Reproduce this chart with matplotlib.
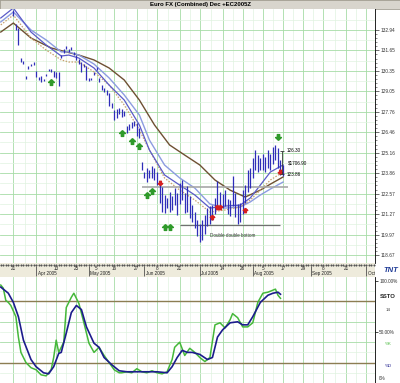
import matplotlib
matplotlib.use("Agg")
import matplotlib.pyplot as plt
from matplotlib.path import Path
import numpy as np
import pandas as pd

plt.rcParams['font.family'] = ['Liberation Sans', 'DejaVu Sans']

W, H = 400, 383

# trading days shown on the chart
dates = pd.bdate_range("2005-03-14", "2005-10-07")

# ---- daily bars (high / low), first bar on 2005-03-21
bar_start = "2005-03-21"
highs = [134.21, 133.32, 133.07, 131.16, 130.97, 130.02, 130.66, 130.78, 130.91, 130.34,
         129.96, 130.02, 129.83, 130.15, 130.47, 130.47, 130.34, 130.28, 130.28, 131.36,
         131.74, 131.93, 131.74, 131.86, 131.55, 131.36, 131.10, 130.91, 130.78, 130.66,
         129.90, 129.90, 130.28, 130.59, 129.90, 129.45, 129.26, 129.14, 128.95, 128.31,
         127.87, 127.93, 127.99, 127.93, 127.80, 126.85, 126.98, 127.11, 127.17, 127.04,
         126.73, 124.57, 123.93, 124.19, 124.06, 124.32, 124.19, 123.93, 123.24, 122.99,
         122.48, 122.29, 122.67, 122.42, 122.92, 122.61, 123.24, 123.43, 122.61, 123.05,
         122.42, 121.85, 121.40, 120.89, 120.64, 120.89, 121.21, 121.65, 121.78, 121.85,
         122.29, 123.37, 122.67, 122.54, 122.80, 122.23, 122.16, 123.68, 122.61, 121.91,
         121.97, 122.80, 123.11, 124.06, 124.19, 124.83, 125.33, 125.02, 124.83, 125.08,
         124.89, 125.33, 125.08, 125.52, 125.65, 125.46, 124.70, 124.38]
lows = [133.83, 132.94, 131.99, 130.91, 130.78, 129.83, 130.47, 130.66, 130.72, 129.96,
        129.77, 129.64, 129.71, 130.02, 130.34, 130.28, 129.96, 129.90, 129.39, 131.16,
        131.48, 131.74, 131.55, 131.67, 131.36, 131.04, 130.78, 130.28, 130.59, 129.77,
        129.71, 129.77, 130.09, 130.40, 129.64, 129.14, 129.01, 128.82, 128.12, 127.99,
        127.23, 127.36, 127.61, 127.42, 127.49, 126.41, 126.60, 126.73, 126.85, 126.22,
        126.09, 124.06, 123.55, 123.30, 123.55, 123.55, 123.43, 123.11, 121.97, 121.40,
        121.34, 121.66, 121.40, 121.53, 121.85, 121.21, 121.91, 122.16, 121.34, 121.40,
        121.02, 120.77, 120.39, 119.88, 119.50, 119.62, 120.00, 120.51, 120.64, 120.89,
        121.27, 121.66, 121.72, 121.66, 121.78, 121.27, 121.15, 121.78, 121.08, 120.64,
        120.77, 121.27, 121.97, 122.67, 122.92, 123.55, 124.06, 123.93, 124.06, 124.06,
        123.93, 124.19, 124.06, 124.45, 124.70, 124.19, 123.74, 123.68]

# ---- moving averages (day index, value)
ma_slow_idx = [0, 5, 12, 20, 26, 31, 37, 43, 49, 55, 61, 67, 73, 79, 85, 91, 97, 103, 107, 112]
ma_slow = [132.81, 133.38, 132.43, 131.80, 131.55, 131.35, 131.04, 130.53, 129.77, 128.50,
           126.92, 125.65, 125.01, 124.38, 123.43, 122.79, 122.35, 122.79, 123.17, 123.62]
ma_idx = [0, 5, 12, 18, 24, 27, 31, 37, 43, 49, 55, 59, 65, 71, 77, 83, 89, 95, 99, 103, 107, 112]
ma_mid = [133.45, 134.08, 132.94, 132.31, 131.55, 131.55, 131.35, 130.78, 129.90, 128.82, 127.55,
          125.96, 124.38, 123.56, 122.92, 121.91, 121.65, 121.72, 122.04, 122.48, 122.86, 123.30]
ma_fast = [133.70, 134.33, 132.81, 131.99, 131.29, 131.35, 131.16, 130.53, 129.45, 128.50, 126.92,
           125.33, 123.75, 123.11, 122.48, 121.65, 121.78, 121.84, 122.29, 123.11, 123.94, 124.38]
ma_wtd = [133.26, 133.89, 132.43, 131.67, 131.04, 130.91, 130.91, 130.28, 129.45, 128.18, 126.60,
          125.33, 123.56, 122.79, 122.16, 121.40, 121.53, 121.72, 122.16, 122.79, 123.43, 123.94]

# ---- signals
buy_idx = [20, 48, 52, 55, 58, 60, 65, 67]
buy_px = [129.64, 126.41, 125.90, 125.58, 122.48, 122.73, 120.45, 120.45]
sell_idx = [110]
sell_px = [126.16]
red_dn_idx = [63, 111]
red_dn_px = [123.24, 123.94]
red_up_idx = [84, 86, 87, 97]
red_up_px = [121.08, 121.72, 121.72, 121.53]

support_line = (56, 114, 122.98)
bottom_line = (71, 111, 120.58)

price_ticks = [132.94, 131.65, 130.35, 129.05, 127.76, 126.46, 125.16,
               123.86, 122.57, 121.27, 119.97, 118.67]

# ---- slow stochastics
k_idx = [0, 1, 2, 3, 4, 6, 7, 8, 10, 12, 14, 16, 18, 20, 21, 22, 23, 25, 26, 28, 29, 31, 33,
         35, 37, 39, 41, 43, 45, 47, 48, 50, 52, 54, 56, 58, 60, 62, 64, 66, 68, 69, 71, 73,
         75, 77, 79, 81, 83, 85, 87, 89, 91, 92, 94, 96, 98, 100, 102, 104, 106, 108, 109,
         110, 111]
k_val = [96, 93, 81, 79, 76, 65, 45, 30, 20, 15, 13, 8, 7, 13, 25, 42, 30, 40, 74, 84, 88, 78,
         59, 39, 30, 35, 27, 20, 13, 10, 10, 11, 10, 14, 11, 10, 12, 10, 9, 11, 23, 35, 40, 27,
         34, 30, 25, 21, 25, 57, 59, 54, 62, 68, 64, 55, 55, 59, 79, 88, 89, 91, 92, 86, 83]
d_idx = [0, 3, 5, 7, 9, 12, 14, 17, 19, 21, 23, 24, 26, 28, 30, 32, 34, 37, 39, 41, 44, 47,
         50, 54, 58, 62, 66, 68, 70, 72, 74, 76, 79, 82, 84, 86, 88, 91, 94, 96, 98, 100,
         103, 106, 108, 110, 111]
d_val = [94, 88, 79, 65, 42, 23, 16, 10, 9, 16, 29, 30, 49, 69, 76, 72, 55, 39, 35, 25, 18,
         12, 11, 11, 11, 11, 10, 16, 25, 32, 30, 30, 28, 23, 25, 45, 52, 59, 60, 57, 57, 65,
         79, 86, 88, 89, 87]

day_ticks = ["2005-03-21", "2005-04-13", "2005-04-25", "2005-05-05", "2005-05-16",
             "2005-05-27", "2005-06-08", "2005-06-21", "2005-07-14", "2005-07-26",
             "2005-08-05", "2005-08-17", "2005-08-29", "2005-09-08", "2005-09-21"]
month_ticks = ["2005-04-01", "2005-05-02", "2005-06-01", "2005-07-01",
               "2005-08-01", "2005-09-01", "2005-10-03"]
month_labels = ["Apr 2005", "May 2005", "Jun 2005", "Jul 2005", "Aug 2005", "Sep 2005", "Oct 2005"]
grid_months = ["2005-04-01", "2005-07-01", "2005-10-03"]


def loc(d):
    return dates.get_loc(pd.Timestamp(d))


def frac(x0, y0, x1, y1):
    return [x0 / W, 1 - y1 / H, (x1 - x0) / W, (y1 - y0) / H]


GMAJ = "#a6dca6"
GMIN = "#e0f3e0"
XLIM = (-0.3, 148.5)

day_pos = [loc(d) for d in day_ticks]
month_pos = [loc(d) for d in month_ticks]
vgrid = sorted(day_pos + [loc(d) for d in grid_months])
vminor = [(a + b) / 2 for a, b in zip(vgrid[:-1], vgrid[1:])] + [vgrid[-1] + 4]

fig = plt.figure(figsize=(W / 100, H / 100), dpi=100)

# title bar
ax_t = fig.add_axes(frac(0, 0, 400, 9))
ax_t.set_facecolor("#d8d5cd")
ax_t.set_xticks([]); ax_t.set_yticks([])
for s in ax_t.spines.values():
    s.set_color("#a09c90"); s.set_linewidth(0.6)
ax_t.text(0.5, 0.45, "Euro FX (Combined) Dec +EC2005Z", ha="center", va="center",
          fontsize=4.3, fontweight="bold", transform=ax_t.transAxes)

# ---------- price panel
ax = fig.add_axes(frac(0, 9, 375, 263))
ax.set_xlim(*XLIM)
ax.set_ylim(118.17, 134.27)
for v in vgrid:
    ax.axvline(v, color=GMAJ, lw=0.6, zorder=0)
for v in vminor:
    ax.axvline(v, color=GMIN, lw=0.5, zorder=0)
for p in price_ticks:
    ax.axhline(p, color=GMAJ, lw=0.6, zorder=0)
for a, b in zip(price_ticks[:-1], price_ticks[1:]):
    ax.axhline((a + b) / 2, color=GMIN, lw=0.5, zorder=0)
ax.axhline(price_ticks[0] + 0.65, color=GMIN, lw=0.5, zorder=0)

ax.plot(ma_slow_idx, ma_slow, color="#6e5032", lw=1.0, zorder=2)
ax.plot(ma_idx, ma_mid, color="#8c9ce0", lw=1.0, zorder=2)
ax.plot(ma_idx, ma_wtd, color="#c8a070", lw=0.9, ls=(0, (1.2, 1.2)), zorder=2)
ax.plot(ma_idx, ma_fast, color="#5a5ac8", lw=0.9, zorder=2)

bx = np.arange(loc(bar_start), loc(bar_start) + len(highs))
ax.vlines(bx, lows, highs, color="#2e2eb8", lw=0.9, zorder=3)

ax.hlines(support_line[2], support_line[0], support_line[1], color="#a8a8a8", lw=1.2, zorder=2)
ax.hlines(bottom_line[2], bottom_line[0], bottom_line[1], color="#707070", lw=0.9, zorder=2)
ax.text(83, 119.94, "Double double bottom", fontsize=3.3, va="center", color="#333333")

up = Path([(0, 1), (-1, 0), (-0.4, 0), (-0.4, -1), (0.4, -1), (0.4, 0), (1, 0), (0, 1)])
dn = Path([(0, -1), (-1, 0), (-0.4, 0), (-0.4, 1), (0.4, 1), (0.4, 0), (1, 0), (0, -1)])
ax.plot(buy_idx, buy_px, ls="none", marker=up, ms=4.2, color="#2f9a2a", zorder=4)
ax.plot(sell_idx, sell_px, ls="none", marker=dn, ms=4.2, color="#2f9a2a", zorder=4)
ax.plot(red_dn_idx, red_dn_px, ls="none", marker=dn, ms=3.2, color="#d42020", zorder=4)
ax.plot(red_up_idx, red_up_px, ls="none", marker=up, ms=3.2, color="#d42020", zorder=4)

# measured move note
ax.vlines(111.6, 123.81, 125.27, color="#333333", lw=0.6, zorder=4)
ax.hlines([123.81, 125.27], 111.0, 112.4, color="#333333", lw=0.6, zorder=4)
ax.text(113.5, 125.27, "126.30", fontsize=3.3, va="center")
ax.text(113.8, 124.51, "$1706.90", fontsize=3.3, va="center")
ax.text(113.5, 123.81, "123.86", fontsize=3.3, va="center")

ax.yaxis.tick_right()
ax.set_yticks(price_ticks)
ax.set_yticklabels([f"{p:.2f}" for p in price_ticks], fontsize=3.4, color="#333333")
mt = []
for a, b in zip(price_ticks[:-1], price_ticks[1:]):
    mt += list(np.linspace(a, b, 6)[1:-1])
ax.set_yticks(mt, minor=True)
ax.tick_params(axis="y", which="major", length=3, width=0.5, pad=1, colors="#333333")
ax.tick_params(axis="y", which="minor", length=1.5, width=0.4, colors="#333333")
ax.set_xticks([])
for s in ["left", "top", "bottom"]:
    ax.spines[s].set_visible(False)
ax.spines["right"].set_linewidth(0.6)

# ---------- date strip
ax_d = fig.add_axes(frac(0, 263, 375, 277))
ax_d.set_facecolor("#eeebdc")
ax_d.set_xlim(*XLIM)
ax_d.set_ylim(0, 1)
ax_d.set_xticks([]); ax_d.set_yticks([])
for s in ax_d.spines.values():
    s.set_visible(False)
ax_d.plot(np.arange(0, 149), np.full(149, 0.86), ls="none", marker="s", ms=0.5,
          color="#555555")
for p, d in zip(day_pos, day_ticks):
    ax_d.text(p, 0.58, str(pd.Timestamp(d).day), fontsize=3.3, ha="center", va="center",
              color="#222222")
for p, lab in zip(month_pos, month_labels):
    ax_d.vlines(p, 0.08, 0.8, color="#333333", lw=0.5)
    t = ax_d.text(p + 0.6, 0.28, lab, fontsize=3.3, ha="left", va="center", color="#222222")
    t.set_clip_on(True)
fig.text(391 / W, 1 - 270 / H, "TNT", fontsize=5.5, fontweight="bold", style="italic",
         color="#1e3a96", ha="center", va="center")

# ---------- SSTO panel
ax_s = fig.add_axes(frac(0, 277, 375, 383))
ax_s.set_xlim(*XLIM)
ax_s.set_ylim(0, 103.9)
for v in vgrid:
    ax_s.axvline(v, color=GMAJ, lw=0.6, zorder=0)
for v in vminor:
    ax_s.axvline(v, color=GMIN, lw=0.5, zorder=0)
for g in [20, 40, 60, 80]:
    ax_s.axhline(g, color=GMAJ, lw=0.6, zorder=0)
for g in [10, 30, 50, 70, 90]:
    ax_s.axhline(g, color=GMIN, lw=0.5, zorder=0)
ax_s.axhline(80, color="#8c7d52", lw=1.0, zorder=1)
ax_s.axhline(20, color="#8c7d52", lw=1.0, zorder=1)
ax_s.plot(k_idx, k_val, color="#45b83a", lw=1.1, zorder=2)
ax_s.plot(d_idx, d_val, color="#1c1c8c", lw=1.2, zorder=3)
ax_s.yaxis.tick_right()
ax_s.set_yticks([100, 50, 0])
ax_s.set_yticklabels(["100.00%", "50.00%", ""], fontsize=3.4, color="#333333")
ax_s.tick_params(axis="y", length=2, width=0.5, pad=1)
ax_s.set_xticks([])
for s in ["left", "top", "bottom"]:
    ax_s.spines[s].set_visible(False)
ax_s.spines["right"].set_linewidth(0.6)

fig.text(379 / W, 1 - 378 / H, "0%", fontsize=3.4, ha="left", va="center", color="#333333")
fig.text(388 / W, 1 - 296 / H, "SSTO", fontsize=4.2, fontweight="bold", ha="center",
         va="center", color="#222222")
fig.text(388 / W, 1 - 310 / H, "14", fontsize=3.2, ha="center", va="center", color="#444444")
fig.text(388 / W, 1 - 344 / H, "%K", fontsize=3.2, ha="center", va="center", color="#45b83a")
fig.text(388 / W, 1 - 366 / H, "%D", fontsize=3.2, ha="center", va="center", color="#1c1c8c")

fig.savefig("out.png", dpi=100)
